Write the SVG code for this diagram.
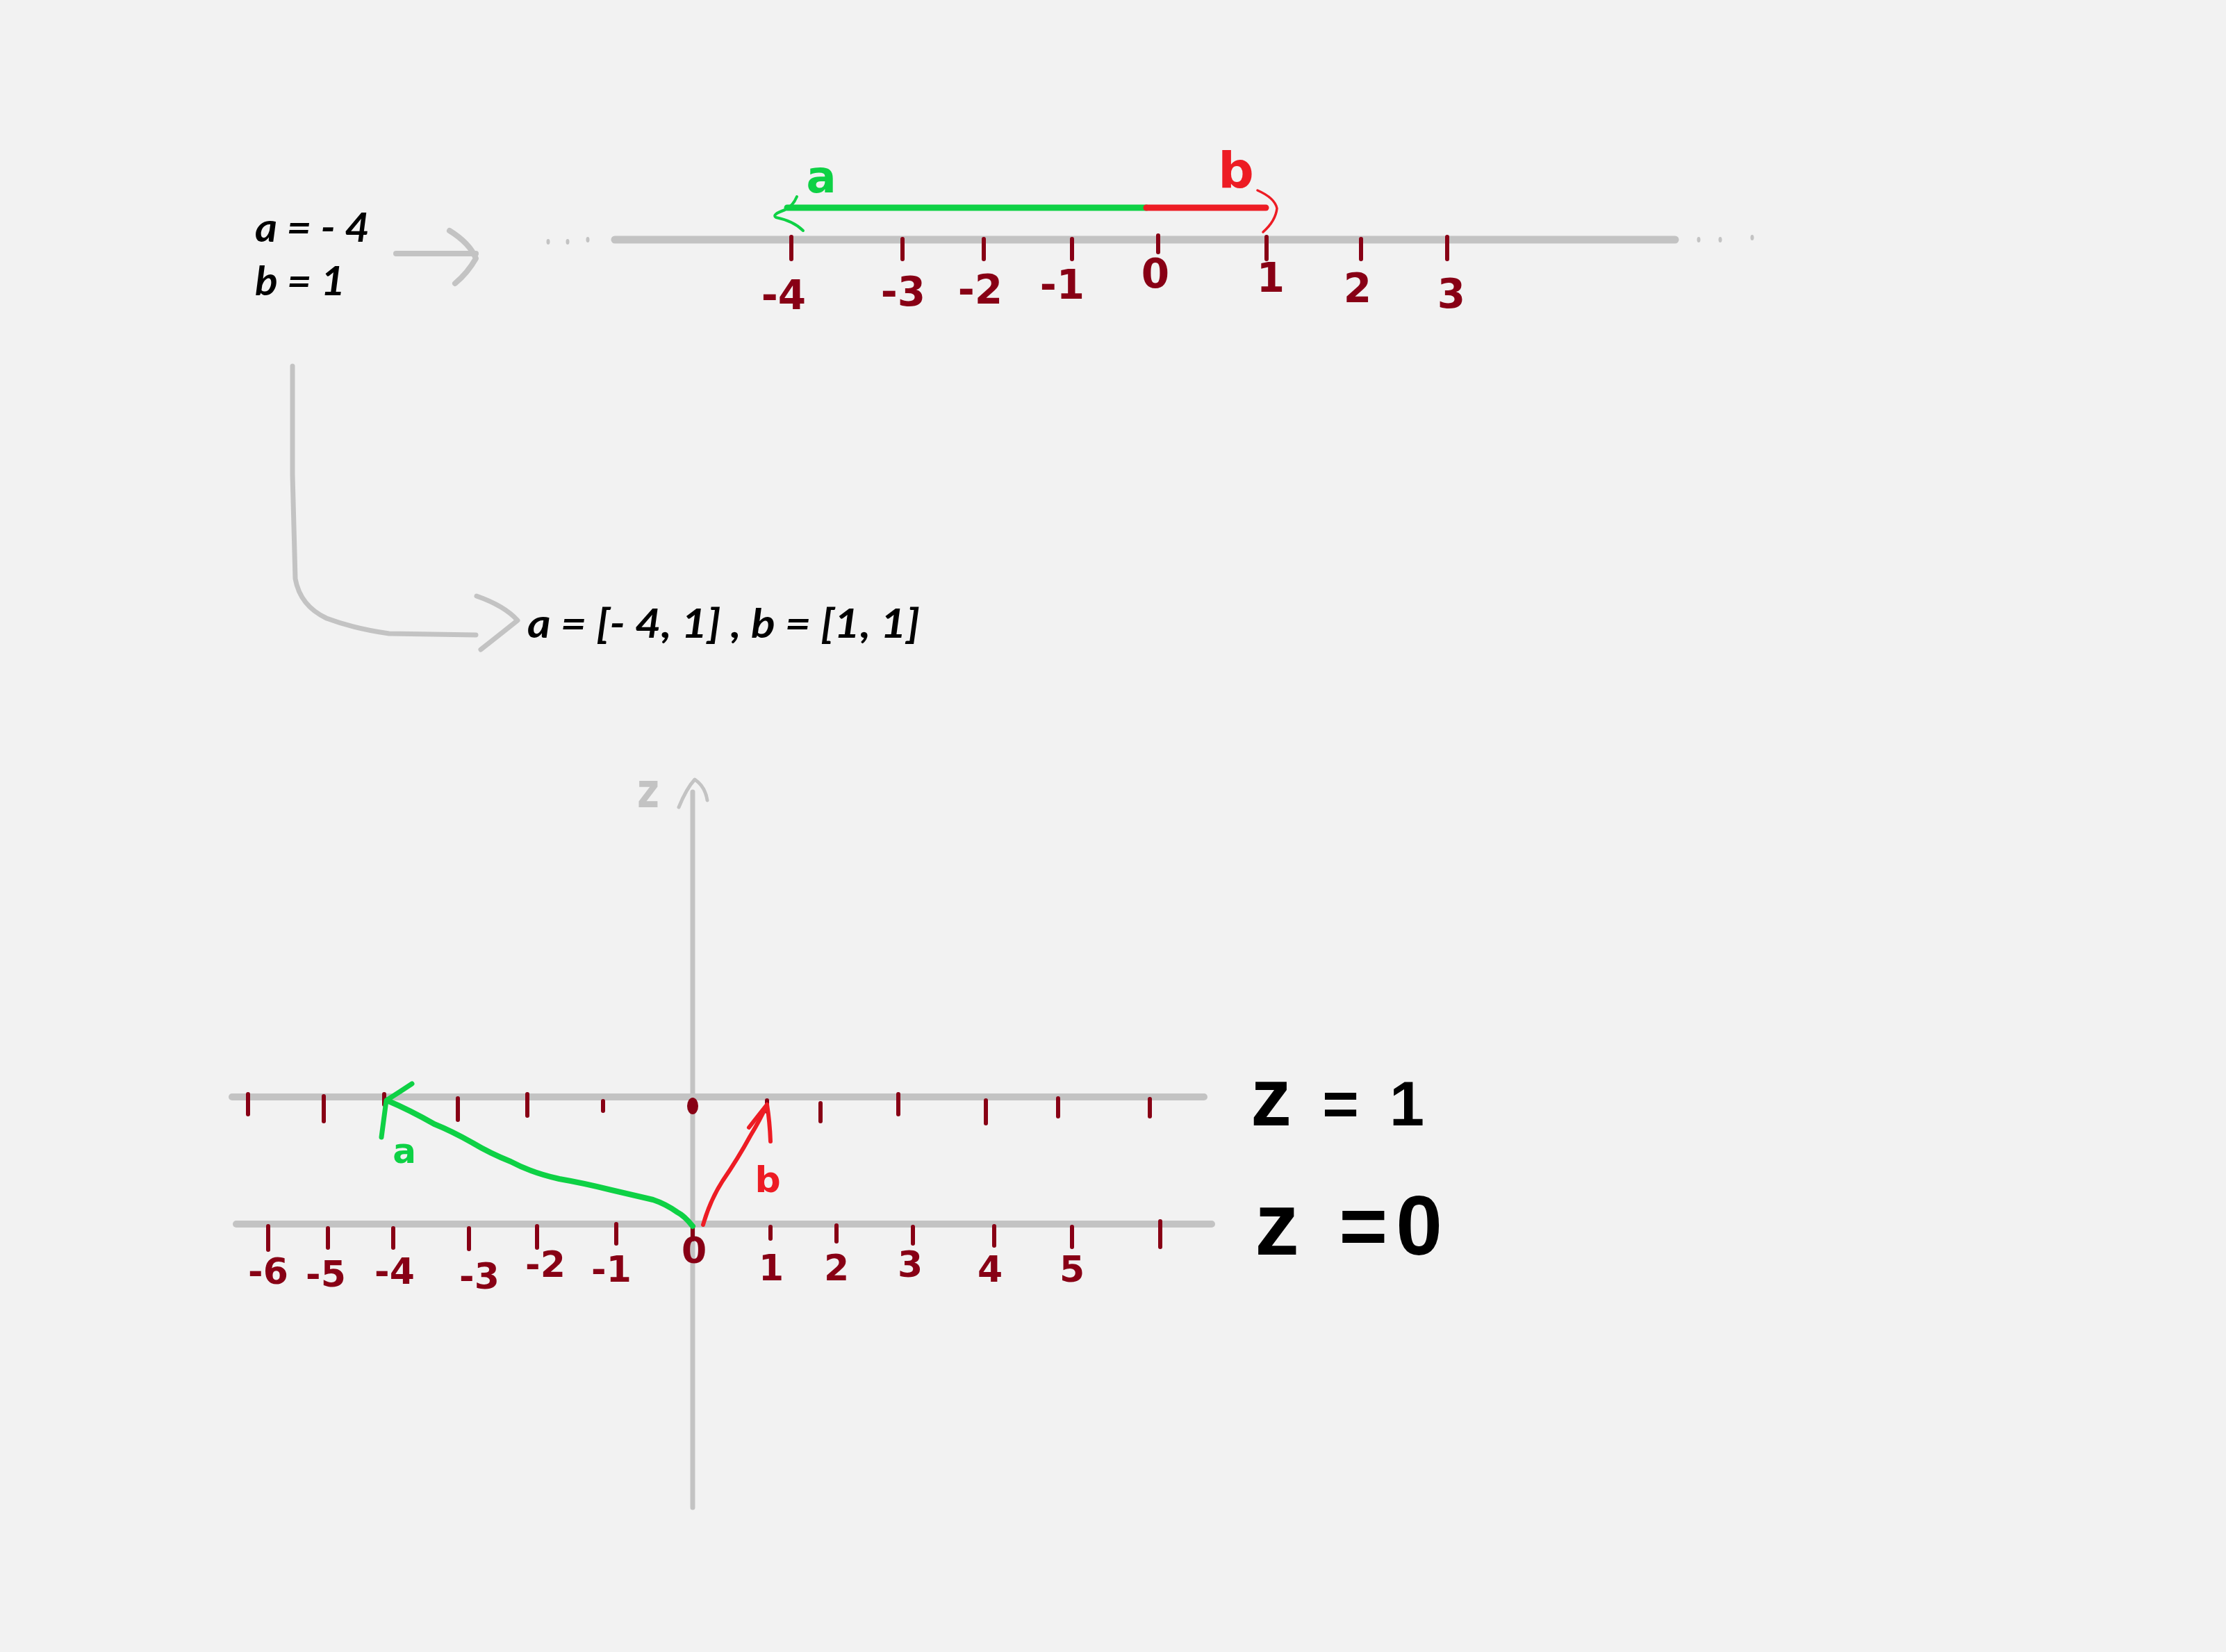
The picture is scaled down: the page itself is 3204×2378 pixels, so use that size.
<svg xmlns="http://www.w3.org/2000/svg" width="3204" height="2378" viewBox="0 0 3204 2378">
<style>
.bg{fill:#f2f2f2}
.gl{stroke:#c3c3c3;fill:none;stroke-linecap:round;stroke-linejoin:round}
.tk{stroke:#880015;stroke-width:6;stroke-linecap:round;fill:none}
.num{fill:#880015;font-family:"DejaVu Sans","Liberation Sans",sans-serif;font-weight:bold;text-anchor:middle}
.hand{fill:#000;font-family:Lato,"DejaVu Sans",sans-serif;font-style:italic;font-weight:bold}
.big{fill:#000;font-family:"Liberation Sans","DejaVu Sans",sans-serif;font-weight:bold}
.gr{stroke:#0ed145;fill:none;stroke-linecap:round;stroke-linejoin:round}
.rd{stroke:#ed1c24;fill:none;stroke-linecap:round;stroke-linejoin:round}
</style>
<rect class="bg" x="0" y="0" width="3204" height="2378"/>

<g id="connectors">
  <path class="gl" stroke-width="8" d="M570,365 L685,365"/>
  <path class="gl" stroke-width="8" d="M647,332 Q676,350 685,372 Q673,393 655,408"/>
  <path class="gl" stroke-width="7" d="M421,527 L421,683 L425,833 Q432,872 470,890 Q510,905 560,912 L685,914"/>
  <path class="gl" stroke-width="7" d="M686,858 Q726,872 745,893 Q720,913 692,935"/>
</g>

<g id="given-values">
  <text class="hand" x="367" y="348" font-size="58" textLength="165" lengthAdjust="spacingAndGlyphs">a = - 4</text>
  <text class="hand" x="367" y="425" font-size="58" textLength="130" lengthAdjust="spacingAndGlyphs">b = 1</text>
</g>

<g id="number-line">
  <line class="gl" stroke-width="11" x1="885" y1="345" x2="2411" y2="345"/>
  <g fill="#c3c3c3">
    <ellipse cx="789" cy="348" rx="2.5" ry="4"/>
    <ellipse cx="817" cy="348" rx="2.5" ry="4"/>
    <ellipse cx="846" cy="345" rx="2.5" ry="4"/>
    <ellipse cx="2445" cy="345" rx="2.5" ry="4"/>
    <ellipse cx="2476" cy="345" rx="2.5" ry="4"/>
    <ellipse cx="2522" cy="342" rx="2.5" ry="4"/>
  </g>
  <g>
    <line class="tk" x1="1139" y1="341" x2="1139" y2="373"/>
    <line class="tk" x1="1299" y1="344" x2="1299" y2="373"/>
    <line class="tk" x1="1416" y1="344" x2="1416" y2="373"/>
    <line class="tk" x1="1543" y1="344" x2="1543" y2="373"/>
    <line class="tk" x1="1667" y1="339" x2="1667" y2="363"/>
    <line class="tk" x1="1823" y1="341" x2="1823" y2="373"/>
    <line class="tk" x1="1959" y1="344" x2="1959" y2="373"/>
    <line class="tk" x1="2083" y1="341" x2="2083" y2="373"/>
  </g>
  <g font-size="58">
    <text class="num" x="1128" y="445">-4</text>
    <text class="num" x="1300" y="440">-3</text>
    <text class="num" x="1411" y="437">-2</text>
    <text class="num" x="1529" y="430">-1</text>
    <text class="num" x="1663" y="414">0</text>
    <text class="num" x="1829" y="420">1</text>
    <text class="num" x="1954" y="435">2</text>
    <text class="num" x="2089" y="443">3</text>
  </g>
  <line class="gr" stroke-width="9" x1="1133" y1="299" x2="1650" y2="299"/>
  <line class="rd" stroke-width="9" x1="1650" y1="299" x2="1822" y2="299"/>
  <path class="gr" stroke-width="4" d="M1147,283 Q1141,297 1130,302 Q1110,309 1117,313 Q1142,318 1156,332"/>
  <path class="rd" stroke-width="3.5" d="M1810,274 Q1835,285 1838,300 Q1836,318 1818,334"/>
  <text x="1182" y="277" font-size="64" fill="#0ed145" font-family="'DejaVu Sans',sans-serif" font-weight="bold" text-anchor="middle">a</text>
  <text x="1779" y="270" font-size="72" fill="#ed1c24" font-family="'DejaVu Sans',sans-serif" font-weight="bold" text-anchor="middle">b</text>
</g>

<g id="vector-values">
  <text class="hand" x="759" y="918" font-size="58" textLength="565" lengthAdjust="spacingAndGlyphs">a = [- 4, 1] , b = [1, 1]</text>
</g>

<g id="plane">
  <line class="gl" stroke-width="7" x1="997" y1="1140" x2="997" y2="2170"/>
  <path class="gl" stroke-width="5" d="M977,1162 Q988,1135 1000,1122 Q1015,1132 1018,1152"/>
  <text x="933" y="1162" font-size="70" fill="#c3c3c3" font-family="'DejaVu Sans',sans-serif" font-weight="bold" text-anchor="middle" textLength="32" lengthAdjust="spacingAndGlyphs">z</text>

  <line class="gl" stroke-width="10" x1="334" y1="1579" x2="1733" y2="1579"/>
  <line class="gl" stroke-width="10" x1="340" y1="1762" x2="1744" y2="1762"/>

  <g id="ticks-z1">
    <line class="tk" x1="357" y1="1575" x2="357" y2="1604"/>
    <line class="tk" x1="466" y1="1578" x2="466" y2="1614"/>
    <line class="tk" x1="553" y1="1575" x2="553" y2="1590"/>
    <line class="tk" x1="659" y1="1581" x2="659" y2="1612"/>
    <line class="tk" x1="759" y1="1575" x2="759" y2="1606"/>
    <line class="tk" x1="868" y1="1585" x2="868" y2="1599"/>
    <ellipse cx="997" cy="1592" rx="8" ry="12" fill="#880015"/>
    <line class="tk" x1="1104" y1="1584" x2="1104" y2="1600"/>
    <line class="tk" x1="1181" y1="1588" x2="1181" y2="1614"/>
    <line class="tk" x1="1293" y1="1575" x2="1293" y2="1604"/>
    <line class="tk" x1="1419" y1="1584" x2="1419" y2="1617"/>
    <line class="tk" x1="1523" y1="1581" x2="1523" y2="1607"/>
    <line class="tk" x1="1655" y1="1582" x2="1655" y2="1607"/>
  </g>
  <g id="ticks-z0">
    <line class="tk" x1="386" y1="1765" x2="386" y2="1799"/>
    <line class="tk" x1="472" y1="1768" x2="472" y2="1796"/>
    <line class="tk" x1="566" y1="1768" x2="566" y2="1796"/>
    <line class="tk" x1="675" y1="1768" x2="675" y2="1798"/>
    <line class="tk" x1="773" y1="1765" x2="773" y2="1796"/>
    <line class="tk" x1="887" y1="1762" x2="887" y2="1790"/>
    <line class="tk" x1="997" y1="1766" x2="997" y2="1784"/>
    <line class="tk" x1="1109" y1="1766" x2="1109" y2="1783"/>
    <line class="tk" x1="1204" y1="1764" x2="1204" y2="1787"/>
    <line class="tk" x1="1314" y1="1766" x2="1314" y2="1790"/>
    <line class="tk" x1="1431" y1="1765" x2="1431" y2="1793"/>
    <line class="tk" x1="1543" y1="1766" x2="1543" y2="1795"/>
    <line class="tk" x1="1670" y1="1758" x2="1670" y2="1795"/>
  </g>
  <g id="labels-z0" font-size="52">
    <text class="num" x="386" y="1848">-6</text>
    <text class="num" x="469" y="1852">-5</text>
    <text class="num" x="568" y="1848">-4</text>
    <text class="num" x="690" y="1855">-3</text>
    <text class="num" x="785" y="1838">-2</text>
    <text class="num" x="880" y="1845">-1</text>
    <text class="num" x="999" y="1818">0</text>
    <text class="num" x="1110" y="1843">1</text>
    <text class="num" x="1204" y="1843">2</text>
    <text class="num" x="1310" y="1838">3</text>
    <text class="num" x="1425" y="1845">4</text>
    <text class="num" x="1543" y="1845">5</text>
  </g>

  <g id="vector-a">
    <path class="gr" stroke-width="8" d="M997,1765 Q985,1750 975,1745 Q958,1733 940,1727 Q910,1720 880,1713 Q840,1703 805,1697 Q765,1688 735,1672 Q705,1660 680,1645 Q650,1628 625,1618 Q590,1598 557,1584"/>
    <path class="gr" stroke-width="7" d="M593,1560 Q575,1572 556,1584 L549,1637"/>
    <text x="582" y="1674" font-size="50" fill="#0ed145" font-family="'DejaVu Sans',sans-serif" font-weight="bold" text-anchor="middle">a</text>
  </g>
  <g id="vector-b">
    <path class="rd" stroke-width="6" d="M1012,1763 Q1022,1728 1040,1700 Q1062,1668 1080,1635 Q1094,1612 1104,1590"/>
    <path class="rd" stroke-width="6" d="M1078,1623 Q1092,1605 1104,1590 Q1108,1615 1109,1643"/>
    <text x="1105" y="1716" font-size="52" fill="#ed1c24" font-family="'DejaVu Sans',sans-serif" font-weight="bold" text-anchor="middle">b</text>
  </g>

  <text class="big" x="1800" y="1620" textLength="250" lengthAdjust="spacing"><tspan font-size="118">z</tspan><tspan font-size="90"> = 1</tspan></text>
  <text class="big" x="1806" y="1806" textLength="270" lengthAdjust="spacing"><tspan font-size="128">z</tspan><tspan font-size="120"> =0</tspan></text>
</g>
</svg>
